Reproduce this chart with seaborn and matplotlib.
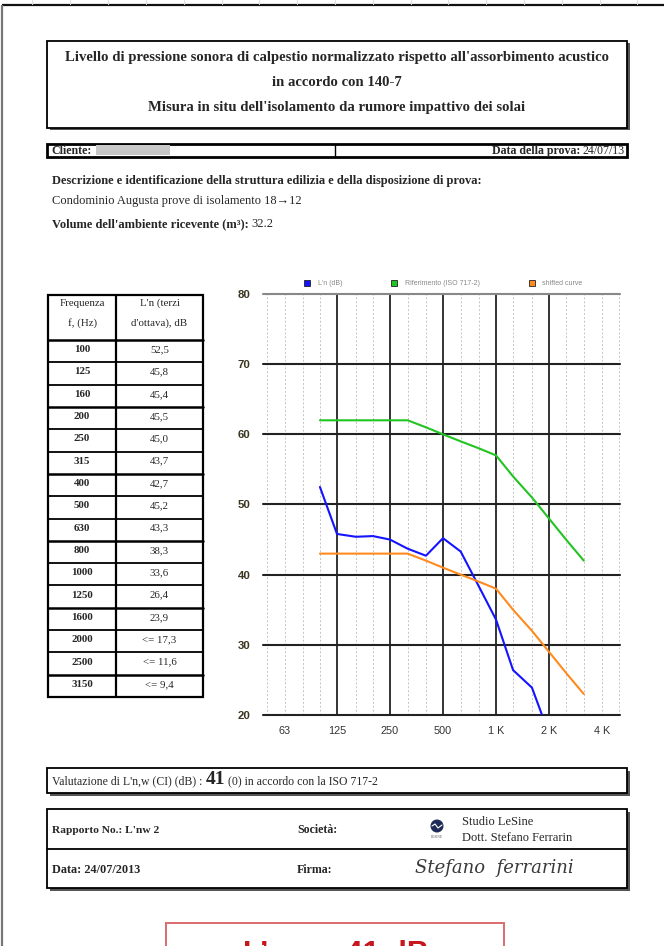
import numpy as np
import pandas as pd
import matplotlib
matplotlib.use("Agg")
import matplotlib.pyplot as plt
import seaborn as sns
from matplotlib.patches import Rectangle, Circle
from matplotlib.lines import Line2D
from matplotlib.ticker import NullLocator

# ---------------- data ----------------
freqs = [100, 125, 160, 200, 250, 315, 400, 500, 630, 800, 1000, 1250, 1600, 2000, 2500, 3150]
ln_values = [52.5, 45.8, 45.4, 45.5, 45.0, 43.7, 42.7, 45.2, 43.3, 38.3, 33.6, 26.4, 23.9, 17.3, 11.6, 9.4]
ln_table_labels = ['52,5', '45,8', '45,4', '45,5', '45,0', '43,7', '42,7', '45,2', '43,3', '38,3',
                   '33,6', '26,4', '23,9', '<= 17,3', '<= 11,6', '<= 9,4']
ref_values = [62, 62, 62, 62, 62, 62, 61, 60, 59, 58, 57, 54, 51, 48, 45, 42]
shifted_values = [43, 43, 43, 43, 43, 43, 42, 41, 40, 39, 38, 35, 32, 29, 26, 23]
series_names = ["L'n (dB)", "Riferimento (ISO 717-2)", "shifted curve"]
series_colors = ['#1414ff', '#22c422', '#ff8a1e']
x_tick_values = [63, 125, 250, 500, 1000, 2000, 4000]
x_tick_labels = ['63', '125', '250', '500', '1 K', '2 K', '4 K']
y_ticks = [20, 30, 40, 50, 60, 70, 80]
octave_lines = [125, 250, 500, 1000, 2000]
third_octave_lines = [50, 63, 80, 100, 160, 200, 315, 400, 630, 800, 1250, 1600, 2500, 3150, 4000, 5000]

df = pd.DataFrame({
    'freq': freqs * 3,
    'level': ln_values + ref_values + shifted_values,
    'series': [series_names[0]] * len(freqs) + [series_names[1]] * len(freqs) + [series_names[2]] * len(freqs),
})

sns.set_theme(style='white')
plt.rcParams['font.family'] = ['Liberation Serif', 'DejaVu Serif']

W, H = 664, 946
fig = plt.figure(figsize=(W / 100, H / 100), dpi=100)
fig.patch.set_facecolor('white')
renderer = fig.canvas.get_renderer()
doc = fig.add_axes([0, 0, 1, 1], zorder=0)
doc.set_xlim(0, W)
doc.set_ylim(H, 0)
doc.axis('off')

# page frame
doc.plot([2, W], [5, 5], color='#111', lw=1.6, solid_capstyle='butt')
doc.plot([2, 2], [5, H], color='#777', lw=1.6, solid_capstyle='butt')
for xr in [32, 70, 108, 146, 184, 222, 259, 297, 335, 373, 411, 448, 486, 524, 562, 600, 637]:
    doc.plot([xr, xr], [0, 4], color='#d5e0ea', lw=0.8)


def box(x0, y0, x1, y1, lw=1.3, shadow=True):
    if shadow:
        doc.add_patch(Rectangle((x0 + 2.5, y0 + 2.5), x1 - x0, y1 - y0, fc='#555', ec='none'))
    doc.add_patch(Rectangle((x0, y0), x1 - x0, y1 - y0, fc='white', ec='black', lw=lw))


def chain(x, yb, parts, align='left'):
    """parts: (text, fontsize, weight, gap_before_px); baseline-aligned pieces."""
    seq = parts if align == 'left' else list(reversed(parts))
    cur = x
    for s, fs, w, gap in seq:
        if align == 'left':
            cur += gap
            t = doc.text(cur, yb, s, fontsize=fs, fontweight=w, ha='left', va='baseline')
            cur += t.get_window_extent(renderer).width
        else:
            t = doc.text(cur, yb, s, fontsize=fs, fontweight=w, ha='right', va='baseline')
            cur -= t.get_window_extent(renderer).width + gap


# title box
box(47, 41, 627, 128)
title_lines = ["Livello di pressione sonora di calpestio normalizzato rispetto all'assorbimento acustico",
               "in accordo con 140-7",
               "Misura in situ dell'isolamento da rumore impattivo dei solai"]
for yy, s in zip([57, 83, 107], title_lines):
    doc.text(337, yy, s, fontsize=10.6, fontweight='bold', ha='center', va='center')

# cliente row
doc.add_patch(Rectangle((47, 144), 580, 13, fc='white', ec='black', lw=2))
doc.add_patch(Rectangle((96, 145.5), 74, 10, fc='#c8c8c8', ec='none'))
doc.plot([335, 335], [144, 157], color='black', lw=1)
doc.text(51, 154, "Cliente:", fontsize=8.6, fontweight='bold', va='baseline')
chain(625, 154, [("Data della prova:", 8.6, 'bold', 0), ("24/07/13", 8.6, 'normal', 2.5)], align='right')

doc.text(52, 181, "Descrizione e identificazione della struttura edilizia e della disposizione di prova:",
         fontsize=9, fontweight='bold', va='center')
doc.text(52, 201, "Condominio Augusta prove di isolamento 18\u219212", fontsize=9, va='center')
chain(52, 227, [("Volume dell'ambiente ricevente (m\u00b3):", 9, 'bold', 0), ("32.2", 9, 'normal', 3)])

# data table
tx0, tx1, tx2 = 48, 116, 203
ty0, ty1 = 295, 340
row_h = (697 - 340) / len(freqs)
doc.add_patch(Rectangle((tx0, ty0), tx2 - tx0, 697 - ty0, fc='white', ec='black', lw=1.6))
doc.plot([tx1, tx1], [ty0, 697], color='black', lw=1.6)
doc.plot([tx0, tx2], [ty1, ty1], color='black', lw=1.8)
doc.text((tx0 + tx1) / 2, 303, "Frequenza", fontsize=7.8, ha='center', va='center')
doc.text((tx0 + tx1) / 2, 323, "f, (Hz)", fontsize=7.8, ha='center', va='center')
doc.text((tx1 + tx2) / 2, 303, "L'n (terzi", fontsize=7.8, ha='center', va='center')
doc.text((tx1 + tx2) / 2, 323, "d'ottava), dB", fontsize=7.8, ha='center', va='center')
for i, (f, lab) in enumerate(zip(freqs, ln_table_labels)):
    yc = ty1 + row_h * (i + 0.5)
    doc.text((tx0 + tx1) / 2, yc - 1.5, str(f), fontsize=7.8, fontweight='bold', ha='center', va='center')
    doc.text((tx1 + tx2) / 2, yc - 1.5, lab, fontsize=7.8, ha='center', va='center')
    if i > 0:
        yl = ty1 + row_h * i
        doc.plot([tx0, tx2], [yl, yl], color='black', lw=1.3 if i % 3 else 1.8)

# valutazione box
box(47, 768, 627, 793, lw=1.3)
chain(52, 784, [("Valutazione di L'n,w (CI) (dB) :", 8.5, 'normal', 0), ("41", 14, 'bold', 3),
                ("(0) in accordo con la ISO 717-2", 8.5, 'normal', 3)])

# report box
box(47, 809, 627, 888, lw=1.3)
doc.plot([47, 627], [849, 849], color='black', lw=1.3)
doc.text(52, 830, "Rapporto No.: L'nw 2", fontsize=8.2, fontweight='bold', va='center')
doc.text(297, 830, "Società:", fontsize=8.6, fontweight='bold', va='center')
doc.add_patch(Circle((437, 826), 6.5, fc='#1f2b57', ec='none'))
doc.plot([432, 435, 438, 442], [826, 824, 828, 825], color='white', lw=0.8)
doc.text(437, 837, "LESINE", fontsize=2.5, ha='center', va='center', color='#555')
doc.text(462, 822, "Studio LeSine", fontsize=9, va='center')
doc.text(462, 838, "Dott. Stefano Ferrarin", fontsize=9, va='center')
doc.text(52, 870, "Data: 24/07/2013", fontsize=8.8, fontweight='bold', va='center')
doc.text(297, 870, "Firma:", fontsize=8.6, fontweight='bold', va='center')
doc.text(415, 868, "Stefano  ferrarini", fontsize=13, fontstyle='italic', color='#3a3a3a',
         family=['DejaVu Serif'], fontweight='light', va='center')

# red result box
doc.add_patch(Rectangle((166, 923), 338, 40, fc='white', ec='#d96a6e', lw=1.4, clip_on=False))
doc.text(243, 940, "L\u2019nw = 41 dB", fontsize=22, fontweight='bold', color='#c8161d',
         family=['Liberation Sans'], ha='left', va='top')

# ---------------- chart ----------------
ax = fig.add_axes([263 / W, 1 - 715 / H, 357 / W, 421 / H], zorder=2)
ax.set_facecolor('none')
ax.set_xscale('log')
for f in third_octave_lines:
    ax.axvline(f, color='#c4c4c4', lw=0.7, ls=(0, (2, 2)), zorder=0, clip_on=False)
for f in octave_lines:
    ax.axvline(f, color='#333333', lw=1.4, zorder=1)
for v in y_ticks:
    ax.axhline(v, color='#888888' if v == 80 else '#222222', lw=1.5, zorder=1, clip_on=False)

sns.lineplot(data=df, x='freq', y='level', hue='series', hue_order=series_names,
             palette=dict(zip(series_names, series_colors)), lw=1.5, legend=False,
             ax=ax, zorder=3)

ax.set_xlim(47.5, 5060)
ax.set_ylim(20, 80)
ax.set_xticks(x_tick_values)
ax.set_xticklabels(x_tick_labels)
ax.xaxis.set_minor_locator(NullLocator())
ax.set_yticks(y_ticks)
ax.tick_params(axis='x', length=0, pad=8, labelsize=7.8, labelcolor='#333333')
ax.tick_params(axis='y', length=0, pad=9, labelsize=8.2, labelcolor='#3a3520')
for lab in ax.get_xticklabels() + ax.get_yticklabels():
    lab.set_family(['Liberation Sans'])
for lab in ax.get_yticklabels():
    lab.set_fontweight('bold')
for sp in ax.spines.values():
    sp.set_visible(False)
ax.set_xlabel('')
ax.set_ylabel('')

handles = [Line2D([], [], marker='s', ls='none', markersize=5, markerfacecolor=c,
                  markeredgecolor='#222', markeredgewidth=0.6) for c in series_colors]
leg = ax.legend(handles, series_names, ncol=3, loc='lower center', bbox_to_anchor=(0.5, 1.01),
                frameon=False, fontsize=5, labelcolor='#888888', columnspacing=6.5,
                handletextpad=0.5, borderaxespad=0)
for t in leg.get_texts():
    t.set_family(['Liberation Sans'])

fig.savefig('out.png', dpi=100, facecolor='white')
